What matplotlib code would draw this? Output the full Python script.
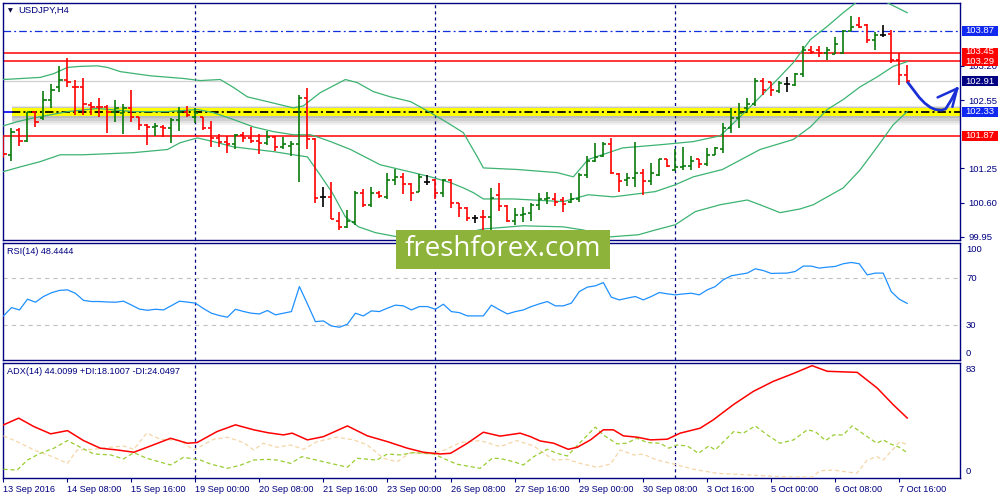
import numpy as np
import matplotlib
matplotlib.use('Agg')
import matplotlib.pyplot as plt
from matplotlib.collections import LineCollection
from matplotlib.patches import Rectangle

plt.rcParams['font.family'] = ['Liberation Sans', 'DejaVu Sans']
plt.rcParams['lines.scale_dashes'] = False

# ---------------- data ----------------
opens = [101.87, 101.51, 101.99, 101.78, 102.33, 102.21, 102.56, 102.79, 102.94, 102.80,
         102.80, 102.46, 102.42, 102.42, 102.33, 102.31, 102.40, 102.23, 102.08, 102.04,
         102.04, 102.02, 102.18, 102.33, 102.23, 102.23, 102.02, 101.83, 101.76, 101.72,
         101.89, 101.83, 101.78, 101.74, 101.85, 101.66, 101.68, 101.72, 102.59, 101.81,
         100.71, 100.71, 100.25, 100.14, 100.24, 100.79, 100.56, 100.79, 100.71, 101.03,
         101.09, 100.96, 100.81, 101.00, 101.03, 100.79, 101.03, 100.60, 100.50, 100.31,
         100.33, 100.33, 100.75, 100.54, 100.25, 100.37, 100.41, 100.56, 100.67, 100.67,
         100.65, 100.62, 100.67, 101.13, 101.40, 101.49, 101.72, 101.15, 101.03, 101.07,
         101.17, 101.02, 101.13, 101.42, 101.22, 101.28, 101.30, 101.42, 101.34, 101.51,
         101.61, 102.02, 102.20, 102.40, 102.48, 102.92, 102.90, 102.73, 102.86, 102.84,
         103.05, 103.51, 103.51, 103.45, 103.43, 103.45, 103.87, 103.98, 103.97, 103.70,
         103.79, 103.81, 103.32, 103.03]
highs = [101.89, 102.02, 102.01, 102.33, 102.35, 102.73, 102.86, 103.19, 103.34, 102.94,
         102.96, 102.52, 102.59, 102.46, 102.56, 102.48, 102.75, 102.23, 102.10, 102.12,
         102.08, 102.20, 102.42, 102.44, 102.40, 102.23, 102.16, 101.91, 101.87, 101.91,
         101.95, 102.04, 101.91, 101.97, 101.87, 101.85, 101.78, 102.65, 102.77, 101.83,
         100.90, 101.00, 100.43, 100.46, 100.83, 100.86, 100.90, 100.83, 101.17, 101.24,
         101.17, 100.98, 101.15, 101.13, 101.05, 101.05, 101.05, 100.60, 100.52, 100.37,
         100.46, 100.88, 100.98, 100.56, 100.50, 100.52, 100.60, 100.79, 100.81, 100.79,
         100.71, 100.79, 101.17, 101.49, 101.74, 101.76, 101.83, 101.17, 101.17, 101.76,
         101.24, 101.36, 101.43, 101.43, 101.61, 101.66, 101.49, 101.43, 101.64, 101.66,
         102.12, 102.39, 102.50, 102.59, 102.96, 102.96, 102.90, 102.92, 102.99, 103.07,
         103.57, 103.57, 103.58, 103.55, 103.74, 103.89, 104.14, 104.12, 104.00, 103.85,
         103.97, 103.89, 103.45, 103.22]
lows = [101.45, 101.40, 101.68, 101.76, 102.04, 102.18, 102.40, 102.71, 102.80, 102.27,
        102.27, 102.27, 102.23, 101.93, 102.14, 101.91, 102.14, 101.99, 101.70, 101.87,
        101.85, 101.74, 101.97, 102.23, 102.12, 101.99, 101.66, 101.66, 101.55, 101.62,
        101.76, 101.74, 101.53, 101.70, 101.59, 101.62, 101.49, 101.00, 101.61, 100.60,
        100.52, 100.29, 100.08, 100.12, 100.18, 100.52, 100.52, 100.69, 100.67, 100.94,
        100.77, 100.63, 100.81, 100.94, 100.67, 100.71, 100.50, 100.33, 100.25, 100.22,
        100.08, 100.08, 100.45, 100.24, 100.18, 100.24, 100.25, 100.46, 100.58, 100.54,
        100.43, 100.60, 100.62, 101.07, 101.38, 101.47, 101.15, 100.81, 100.92, 100.90,
        100.75, 100.94, 101.11, 101.28, 101.20, 101.22, 101.22, 101.26, 101.30, 101.51,
        101.55, 101.93, 102.02, 102.33, 102.44, 102.65, 102.63, 102.69, 102.71, 102.82,
        102.99, 103.43, 103.36, 103.32, 103.43, 103.43, 103.87, 103.91, 103.64, 103.51,
        103.74, 103.26, 102.84, 102.88]
closes = [101.53, 101.95, 101.78, 102.33, 102.14, 102.56, 102.75, 102.94, 102.90, 102.79,
          102.48, 102.42, 102.41, 102.33, 102.39, 102.40, 102.23, 102.08, 102.04, 102.06,
          102.02, 102.18, 102.33, 102.27, 102.31, 102.02, 101.83, 101.76, 101.72, 101.89,
          101.83, 101.78, 101.74, 101.85, 101.66, 101.72, 101.72, 102.59, 101.81, 100.69,
          100.71, 100.29, 100.14, 100.25, 100.79, 100.56, 100.79, 100.73, 101.03, 101.09,
          100.96, 100.79, 101.09, 101.00, 100.79, 101.03, 100.60, 100.50, 100.31, 100.31,
          100.32, 100.69, 100.54, 100.25, 100.37, 100.39, 100.56, 100.67, 100.69, 100.62,
          100.58, 100.67, 101.13, 101.40, 101.47, 101.72, 101.17, 101.02, 101.07, 101.17,
          101.02, 101.17, 101.42, 101.30, 101.28, 101.30, 101.40, 101.34, 101.51, 101.64,
          102.01, 102.20, 102.31, 102.48, 102.92, 102.75, 102.75, 102.88, 102.86, 103.05,
          103.51, 103.47, 103.45, 103.51, 103.62, 103.87, 103.93, 103.93, 103.70, 103.79,
          103.79, 103.32, 103.03, 102.91]

# Bollinger bands (bar index, price)
bb_upper = [(0, 102.94), (4.6, 102.98), (6.25, 103.05), (8, 103.17), (9.6, 103.19), (11.75, 103.20),
            (13, 103.17), (14.6, 103.09), (18.4, 103.01), (22.5, 102.96), (24.6, 102.92), (27.1, 102.94),
            (28.75, 102.79), (30.5, 102.61), (33, 102.52), (36.25, 102.40), (37.5, 102.44), (39.6, 102.69),
            (42.75, 102.94), (44.25, 102.88), (46.25, 102.71), (48.4, 102.61), (50.9, 102.52), (53.4, 102.31),
            (55.5, 102.12), (57.5, 101.93), (59.25, 101.47), (60, 101.26), (64.25, 101.23), (69.25, 101.17),
            (71.25, 101.09), (73.1, 101.42), (77.4, 101.64), (82.1, 101.70), (86.25, 101.76), (89.6, 101.87),
            (92.1, 102.23), (94.6, 102.61), (96.75, 102.94), (98.75, 103.26), (100.9, 103.70), (103, 103.95),
            (105, 104.21), (106.75, 104.42), (108.6, 104.54), (110.5, 104.40), (113, 104.21)]
bb_middle = [(0, 102.06), (1.75, 102.14), (3.75, 102.21), (5.9, 102.27), (8, 102.33), (11.75, 102.39),
             (16.25, 102.33), (20.5, 102.33), (24.25, 102.37), (26.25, 102.31), (28.75, 102.18), (31.25, 102.04),
             (33.75, 101.95), (36.25, 101.89), (38.4, 101.89), (39.6, 101.83), (40.9, 101.76), (43.4, 101.61),
             (47.1, 101.32), (51.25, 101.17), (53.4, 101.09), (55.9, 100.98), (57.5, 100.88), (58.75, 100.79),
             (60, 100.67), (63.75, 100.67), (70, 100.62), (73.1, 100.75), (76.25, 100.71), (81.5, 100.81),
             (84, 100.94), (86.25, 101.09), (89.9, 101.23), (94.6, 101.61), (98.75, 101.80), (100.9, 102.04),
             (103, 102.37), (105, 102.56), (107.1, 102.80), (109.25, 102.99), (111.25, 103.19), (113, 103.28)]
bb_lower = [(0, 101.19), (2.1, 101.28), (4.6, 101.38), (7.1, 101.51), (10, 101.51), (16.25, 101.55),
            (20.5, 101.61), (22.1, 101.74), (24.25, 101.83), (26.25, 101.76), (28.75, 101.66), (33.75, 101.57),
            (36.25, 101.51), (38, 101.47), (39.4, 101.17), (41.1, 100.79), (42.75, 100.33), (44.4, 100.14),
            (46.5, 100.03), (49.25, 99.95), (54.6, 99.91), (60, 100.10), (65, 100.16), (70, 100.14),
            (72.5, 100.08), (75.9, 99.95), (79.4, 99.99), (81.5, 100.08), (84, 100.18), (86.5, 100.43),
            (89.6, 100.56), (93, 100.65), (94.6, 100.56), (97.1, 100.41), (99.6, 100.48), (101.25, 100.56),
            (105, 100.88), (107.1, 101.22), (109.25, 101.66), (111.25, 102.08), (113, 102.33)]

rsi = [37.7, 44.8, 42.8, 52.0, 49.4, 54.3, 57.5, 59.5, 60.0, 57.0,
       51.0, 50.0, 50.0, 49.6, 49.4, 50.3, 47.0, 43.5, 42.5, 43.4,
       42.8, 46.5, 50.3, 49.5, 48.6, 44.0, 40.0, 38.0, 36.6, 43.4,
       41.5, 40.0, 39.4, 42.3, 38.6, 40.0, 41.4, 62.8, 48.0, 32.8,
       33.4, 29.1, 28.0, 30.6, 40.0, 37.7, 42.0, 41.4, 44.3, 46.9,
       46.3, 42.8, 45.7, 45.7, 43.4, 47.7, 41.4, 40.5, 37.7, 37.7,
       37.7, 46.9, 43.0, 39.4, 41.4, 42.8, 45.7, 48.0, 50.0, 46.3,
       46.3, 48.6, 58.5, 62.3, 63.4, 66.2, 53.7, 51.4, 52.9, 54.3,
       51.4, 54.3, 57.7, 56.6, 55.7, 56.5, 57.1, 55.7, 60.0, 62.8,
       68.6, 72.0, 73.2, 74.3, 78.0, 76.5, 74.0, 74.2, 74.3, 75.7,
       80.3, 80.3, 78.6, 79.4, 80.0, 82.3, 83.4, 82.3, 72.8, 74.3,
       74.3, 58.5, 52.0, 48.4]

adx = [(0, 38.9), (1.9, 43.9), (3.8, 37.6), (5.9, 32.2), (8, 34.6), (10, 27.2), (12.1, 21.5), (14.2, 20.2),
       (16.3, 18.5), (18.4, 23.2), (20.9, 28.9), (23, 25.2), (24.2, 25.7), (26.7, 33.9), (29, 38.9), (31.3, 35.2),
       (33, 33.1), (35, 31.4), (36.1, 32.7), (38, 27.7), (40, 30.1), (43, 38.1), (45.5, 30.7), (48, 26.4),
       (50.5, 21.5), (52.5, 18.5), (54.6, 17.2), (55.9, 17.7), (58, 25.2), (60, 33.4), (62.1, 30.5),
       (64.6, 32.7), (65.9, 30.1), (67.1, 26.9), (68.8, 25.2), (70.6, 20.7), (71.75, 22.2), (73.4, 27.7),
       (75, 35.2), (76.25, 35.2), (77.5, 30.7), (79.25, 29.7), (80.9, 27.7), (83, 28.2), (84.6, 32.7),
       (87.1, 36.4), (88.75, 42.6), (91.25, 53.9), (93.75, 63.8), (96.25, 71.3), (98.75, 77.1), (101.1, 83.0),
       (103, 78.8), (106.75, 78.0), (109.25, 66.3), (111.25, 53.9), (113, 44.0)]
plus_di = [(0, 5.8), (1.7, 5.2), (3, 12.7), (4.6, 17.7), (6.3, 21.5), (8, 27.2), (9.6, 22.2), (11.3, 17.2),
           (13.4, 16.5), (15, 13.5), (16.3, 18.2), (17.9, 14.0), (20.9, 9.0), (22.5, 14.7), (24.6, 12.7),
           (25.9, 9.7), (28, 6.5), (29.6, 8.8), (31.3, 12.7), (33, 13.2), (34.2, 12.7), (35.9, 10.2), (37.3, 15.2),
           (39.6, 12.0), (43, 7.3), (44.2, 14.0), (46.7, 12.7), (48, 17.2), (49.6, 16.5), (51.3, 18.2),
           (53.8, 17.2), (56.6, 9.7), (59.6, 6.5), (61.1, 14.0), (62.1, 13.8), (63.8, 11.4), (65, 9.0),
           (66.3, 15.2), (68, 20.7), (69.2, 17.7), (70.5, 15.7), (72.1, 25.7), (74, 37.2), (75, 31.4),
           (76.7, 24.7), (77.9, 25.2), (79.2, 28.9), (80.5, 25.7), (82.1, 25.2), (83.2, 21.5), (84.2, 23.9),
           (85.5, 23.2), (86.9, 17.7), (88.2, 23.2), (89, 20.2), (91.3, 33.9), (92.5, 32.7), (94, 38.1),
           (95.5, 31.4), (97.1, 25.2), (98.8, 27.7), (100.5, 35.2), (101.5, 33.9), (102.8, 27.2), (103.8, 31.4),
           (105, 31.4), (106.1, 38.1), (108, 30.1), (109.2, 25.2), (110, 27.7), (110.9, 24.7), (112, 22.2),
           (113, 18.1)]
minus_di = [(0, 30.7), (1.7, 26.4), (3.8, 20.2), (5.9, 15.7), (8, 10.2), (9.2, 20.2), (11.3, 20.7), (13.4, 22.2),
            (15, 23.2), (16.3, 20.7), (17.9, 32.7), (19.6, 28.2), (22.1, 27.2), (23.8, 20.2), (26.3, 28.2),
            (28, 29.7), (30, 25.7), (31.3, 20.2), (32.5, 25.2), (34.2, 22.2), (35.9, 23.9), (37.5, 20.7),
            (39.2, 26.4), (41.7, 29.7), (43.8, 27.7), (45.5, 23.9), (47.5, 14.0), (49.2, 11.4), (50.9, 18.2),
            (53.4, 17.2), (55, 19.7), (57.1, 25.7), (59.6, 27.2), (62.1, 22.7), (64.2, 27.2), (66.3, 23.2),
            (68.8, 12.7), (70.5, 13.2), (72.1, 10.2), (74.2, 7.3), (75.9, 9.7), (77.1, 20.2), (78.8, 16.5),
            (80, 17.0), (81.7, 12.7), (83.8, 9.7), (86.3, 5.8), (89.2, 2.8), (93.4, 1.5), (97.5, 0.2),
            (101.1, 0.0), (102.1, 4.7), (103.8, 5.2), (106.7, 2.8), (108, 12.7), (109.2, 15.2), (110, 12.7),
            (112.1, 26.4), (113, 24.05)]

date_ticks = [0, 8, 16, 24, 32, 40, 48, 56, 64, 72, 80, 88, 96, 104, 112]
date_labels = ['13 Sep 2016', '14 Sep 08:00', '15 Sep 16:00', '19 Sep 00:00', '20 Sep 08:00',
               '21 Sep 16:00', '23 Sep 00:00', '26 Sep 08:00', '27 Sep 16:00', '29 Sep 00:00',
               '30 Sep 08:00', '3 Oct 16:00', '5 Oct 00:00', '6 Oct 08:00', '7 Oct 16:00']
week_separators = [24, 54, 84]
price_axis_ticks = [99.95, 100.60, 101.25, 102.55, 103.20]
level_blue = 103.87
levels_red = [103.45, 103.29, 101.87]
level_gray = 102.91
level_yellow = 102.33
# coloured price tags on the right axis: (label, price, colour)
price_tags = [('103.87', 103.87, '#1028f0'), ('103.45', 103.45, '#ff0000'), ('103.29', 103.29, '#ff0000'),
              ('102.91', 102.91, '#000080'), ('102.33', 102.33, '#1028f0'), ('101.87', 101.87, '#ff0000')]
# hand-drawn forecast arrow (bar index, price)
arrow_path = [(113.1, 102.88), (113.8, 102.74), (114.5, 102.60), (115.2, 102.49), (115.9, 102.41),
              (116.5, 102.37), (117.3, 102.36), (117.8, 102.38), (118.5, 102.55), (119.25, 102.77)]
arrow_head = [[(116.8, 102.60), (119.25, 102.77)], [(118.65, 102.42), (119.25, 102.77)]]

# ---------------- figure ----------------
W, H = 1000, 500
fig = plt.figure(figsize=(10, 5), dpi=100)
fig.patch.set_facecolor('white')
NAVY = '#000080'


def rect(x0, y0, x1, y1):
    return [x0 / W, 1 - y1 / H, (x1 - x0) / W, (y1 - y0) / H]


def ftext(x, y, s, **kw):
    return fig.text(x / W, 1 - y / H, s, **kw)


ax = fig.add_axes(rect(2.7, 2.7, 960, 240))
ax_rsi = fig.add_axes(rect(2.7, 242.7, 960, 360))
ax_adx = fig.add_axes(rect(2.7, 362.7, 960, 478))
XMIN, XMAX = -0.1, 119.6
for a in (ax, ax_rsi, ax_adx):
    for s in a.spines.values():
        s.set_color(NAVY)
        s.set_linewidth(1.0)
    a.set_xlim(XMIN, XMAX)
    a.set_xticks([])
    a.set_yticks([])
    for sep in week_separators:
        a.axvline(sep, color=NAVY, lw=0.9, ls=(0, (2.2, 2.2)), zorder=1)

# ---- main price panel ----
YMIN, YMAX = 99.89, 104.40
ax.set_ylim(YMIN, YMAX)
ax.yaxis.tick_right()
ax.set_yticks(price_axis_ticks)
ax.set_yticklabels([f'{v:.2f}' for v in price_axis_ticks])
ax.tick_params(axis='y', direction='out', length=3, width=0.8, color=NAVY, labelcolor=NAVY,
               labelsize=6.8, pad=3)

ax.axhline(level_blue, color='#1030e0', lw=0.9, ls=(0, (5.5, 2.2, 1.4, 2.2)), zorder=2)
for lv in levels_red:
    ax.axhline(lv, color='#ff0000', lw=1.1, zorder=2)
ax.axhline(level_gray, color='#d0d0d0', lw=0.9, zorder=1.5)

# yellow highlighted level with soft shadow
x_start = (1.1 - XMIN) / (XMAX - XMIN)
for lo, hi, al in [(102.08, 102.40, 0.07), (102.12, 102.41, 0.09), (102.16, 102.42, 0.11),
                   (102.20, 102.43, 0.13)]:
    ax.axhspan(lo, hi, xmin=x_start, xmax=1, color='#404040', alpha=al, lw=0, zorder=2.1)
ax.axhspan(102.255, 102.405, xmin=x_start, xmax=1, color='#ffff00', lw=0, zorder=2.2)
ax.plot([1.1, XMAX], [level_yellow] * 2, color='black', lw=1.3, ls=(0, (6, 2.2, 1.5, 2.2)), zorder=2.3)
ax.plot([XMIN, 1.1], [level_yellow] * 2, color='#0000ff', lw=1.2, zorder=2.3)

# Bollinger bands
for band in (bb_upper, bb_middle, bb_lower):
    bx, by = zip(*band)
    ax.plot(bx, by, color='#3cb371', lw=0.9, zorder=3)

# OHLC bars
segs, cols = [], []
for i, (o, h, l, c) in enumerate(zip(opens, highs, lows, closes)):
    col = '#0a7a0a' if c > o else ('#ff0000' if c < o else '#000000')
    segs += [[(i, l), (i, h)], [(i - 0.38, o), (i, o)], [(i, c), (i + 0.38, c)]]
    cols += [col] * 3
ax.add_collection(LineCollection(segs, colors=cols, linewidths=1.2, zorder=4))

# forecast arrow
axx, axy = zip(*arrow_path)
ax.plot(axx, axy, color='#1a2fd6', lw=2.0, solid_capstyle='round', solid_joinstyle='round',
        zorder=5, clip_on=False)
for seg in arrow_head:
    sx, sy = zip(*seg)
    ax.plot(sx, sy, color='#1a2fd6', lw=1.8, solid_capstyle='round', zorder=5, clip_on=False)

# right-axis coloured price tags (boxes ~10 px tall like the terminal)
top_px, bot_px = 2.7, 240.0
for k, (lab, price, col) in enumerate(price_tags):
    ypx = top_px + (YMAX - price) / (YMAX - YMIN) * (bot_px - top_px)
    fig.add_artist(Rectangle((962 / W, 1 - (ypx + 5) / H), 36 / W, 10 / H, transform=fig.transFigure,
                             fc=col, ec='none', zorder=20 + 2 * k))
    # the 103.45 tag is partly covered by the 103.29 tag, as in the terminal
    dy = -1.5 if lab == '103.45' else 0
    ftext(965.5, ypx + dy, lab, color='white', fontsize=6.8, va='center', ha='left', zorder=21 + 2 * k)

# titles
ftext(7.5, 10.5, '▼', fontsize=4.5, color='#000040', va='center', ha='left', family='DejaVu Sans')
ftext(18, 10.5, 'USDJPY,H4', fontsize=6.8, color=NAVY, va='center', ha='left')

# ---- RSI panel ----
ax_rsi.set_ylim(0, 100.3)
ax_rsi.axhline(70, color='#c0c0c0', lw=0.8, ls=(0, (3, 3)), zorder=1)
ax_rsi.axhline(30, color='#c0c0c0', lw=0.8, ls=(0, (3, 3)), zorder=1)
ax_rsi.plot(range(len(rsi)), rsi, color='#1e90ff', lw=0.9, zorder=3)
ftext(7, 251.5, 'RSI(14) 48.4444', fontsize=6.6, color=NAVY, va='center', ha='left')
for yv, lab in [(249, '100'), (278.5, '70'), (325.5, '30'), (353, '0')]:
    ftext(966, yv, lab, fontsize=6.8, color=NAVY, va='center', ha='left')

# ---- ADX panel ----
ax_adx.set_ylim(-0.7, 85.2)
for series, col, ls, lw in [(minus_di, '#f5d6a8', (0, (3, 2)), 0.9),
                            (plus_di, '#9acd32', (0, (3, 2)), 0.9),
                            (adx, '#ff0000', '-', 1.1)]:
    sx, sy = zip(*series)
    ax_adx.plot(sx, sy, color=col, lw=lw, ls=ls, zorder=3)
ftext(7, 371.7, 'ADX(14) 44.0099 +DI:18.1007 -DI:24.0497', fontsize=6.6, color=NAVY, va='center', ha='left')
for yv, lab in [(370, '83'), (472, '0')]:
    ftext(966, yv, lab, fontsize=6.8, color=NAVY, va='center', ha='left')

ax_adx.set_xticks(date_ticks)
ax_adx.set_xticklabels(date_labels, ha='left')
ax_adx.tick_params(axis='x', direction='out', length=3, width=0.8, color=NAVY, labelcolor=NAVY,
                   labelsize=6.6, pad=2)

# ---- watermark ----
fig.add_artist(Rectangle((396 / W, 1 - 269 / H), 214 / W, 39 / H, transform=fig.transFigure,
                         fc='#8db33a', ec='none', zorder=40))
ftext(503, 249, 'freshforex.com', fontsize=20, color='white', family=['Open Sans', 'DejaVu Sans'],
      va='center', ha='center', zorder=41)

fig.savefig('out.png', dpi=100)
